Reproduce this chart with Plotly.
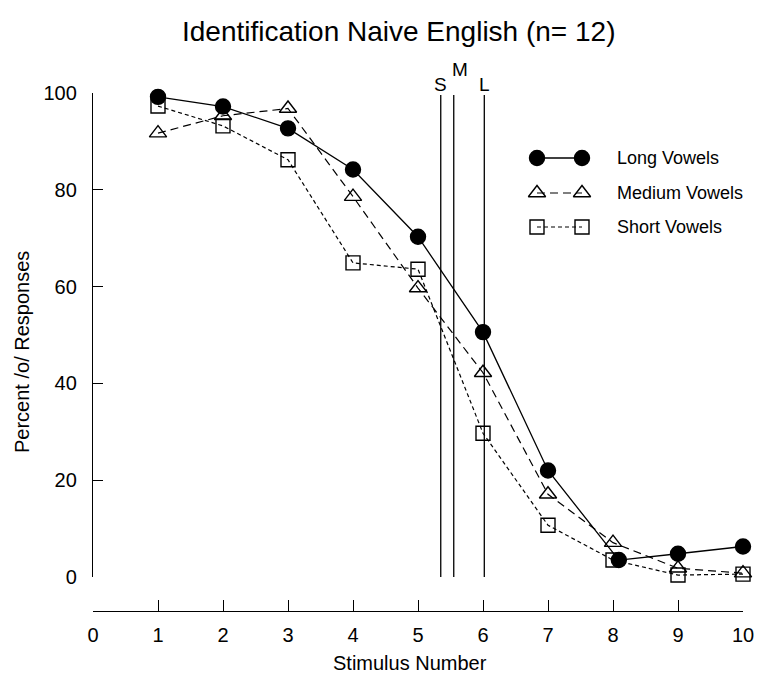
import plotly.graph_objects as go

# ---------------- data ----------------
stimulus = [1, 2, 3, 4, 5, 6, 7, 8, 9, 10]
long_x = [1, 2, 3, 4, 5, 6, 7, 8.09, 9, 10]
long_vowels = [99.2, 97.2, 92.7, 84.2, 70.3, 50.6, 22.0, 3.5, 4.8, 6.3]
medium_vowels = [91.7, 95.3, 96.8, 78.6, 59.7, 42.2, 17.1, 7.1, 1.8, 0.8]
short_vowels = [97.3, 93.2, 86.2, 64.9, 63.6, 29.7, 10.7, 3.5, 0.4, 0.6]
boundary_names = ["S", "M", "L"]
boundary_values = [5.35, 5.55, 6.02]
x_ticks = [0, 1, 2, 3, 4, 5, 6, 7, 8, 9, 10]
y_ticks = [0, 20, 40, 60, 80, 100]
series_names = ["Long Vowels", "Medium Vowels", "Short Vowels"]
title_text = "Identification Naive English (n= 12)"
x_title = "Stimulus Number"
y_title = "Percent /o/ Responses"

FONT = "Liberation Sans, Arial, Helvetica, sans-serif"
W, H = 776, 679
ML, MR, MT, MB = 93, 33, 93, 68
plot_w = W - ML - MR
plot_h = H - MT - MB
y0_pix = 577  # pixel row of y = 0
ydom0 = (H - MB - y0_pix) / plot_h


def px(xp):
    return (xp - ML) / plot_w


def py(yp):
    return (H - MB - yp) / plot_h


styles = [
    dict(symbol="circle", dash="solid", size=15, width=1.3),
    dict(symbol="triangle-up-open", dash="8px,5px", size=15, width=1.2),
    dict(symbol="square-open", dash="4px,3px", size=14, width=1.2),
]
xs = [long_x, stimulus, stimulus]
ys = [long_vowels, medium_vowels, short_vowels]

fig = go.Figure()
for name, x, y, st in zip(series_names, xs, ys, styles):
    fig.add_trace(go.Scatter(
        x=x, y=y, name=name, mode="lines+markers", cliponaxis=False,
        line=dict(color="black", width=st["width"], dash=st["dash"]),
        marker=dict(symbol=st["symbol"], size=st["size"], color="black",
                    line=dict(color="black", width=1.4)),
        showlegend=False,
    ))

# boundary lines
for nm, bv in zip(boundary_names, boundary_values):
    fig.add_shape(type="line", xref="x", yref="y", x0=bv, x1=bv, y0=-7.0, y1=99.6,
                  line=dict(color="black", width=1.3))

label_shift = {"S": (0, 0), "M": (6, 15), "L": (0, 0)}
for nm, bv in zip(boundary_names, boundary_values):
    dx, dy = label_shift[nm]
    fig.add_annotation(x=bv, y=99.6, xref="x", yref="y", text=nm, showarrow=False,
                       xanchor="center", yanchor="bottom", xshift=dx, yshift=dy - 2,
                       font=dict(family=FONT, size=19, color="black"))

# overlay axes in pixel units (overlay shares the y domain: rows 93..577)
fig.add_trace(go.Scatter(x=[None], y=[None], xaxis="x2", yaxis="y2", showlegend=False))
leg_rows = [158, 193, 227]
leg_x = [537, 582]
for name, st, ry in zip(series_names, styles, leg_rows):
    fig.add_trace(go.Scatter(
        x=leg_x, y=[ry, ry], xaxis="x2", yaxis="y2", mode="lines+markers",
        cliponaxis=False, showlegend=False, hoverinfo="skip",
        line=dict(color="black", width=st["width"], dash=st["dash"]),
        marker=dict(symbol=st["symbol"], size=st["size"], color="black",
                    line=dict(color="black", width=1.4)),
    ))
    fig.add_annotation(x=px(615), y=py(ry), xref="paper", yref="paper", text=name,
                       showarrow=False, xanchor="left", yanchor="middle",
                       font=dict(family=FONT, size=18, color="black"))

fig.add_annotation(x=px(398), y=py(32), xref="paper", yref="paper", text=title_text,
                   showarrow=False, xanchor="center", yanchor="middle",
                   font=dict(family=FONT, size=28, color="black"))
fig.add_annotation(x=px(410), y=py(663), xref="paper", yref="paper", text=x_title,
                   showarrow=False, xanchor="center", yanchor="middle",
                   font=dict(family=FONT, size=20, color="black"))
fig.add_annotation(x=px(22), y=py(352), xref="paper", yref="paper", text=y_title,
                   showarrow=False, textangle=-90, xanchor="center", yanchor="middle",
                   font=dict(family=FONT, size=20, color="black"))

fig.update_layout(
    width=W, height=H,
    margin=dict(l=ML, r=MR, t=MT, b=MB, pad=0),
    paper_bgcolor="white", plot_bgcolor="white",
    showlegend=False,
    font=dict(family=FONT, size=18, color="black"),
    xaxis=dict(range=[0, 10], tickvals=x_ticks, ticks="inside", ticklen=11,
               tickwidth=1.2, tickcolor="black", showline=True, linecolor="black",
               linewidth=1.3, showgrid=False, zeroline=False, anchor="free",
               position=0, ticklabelstandoff=6,
               tickfont=dict(family=FONT, size=20)),
    yaxis=dict(range=[0, 100], domain=[ydom0, 1], tickvals=y_ticks, ticks="inside",
               ticklen=10, tickwidth=1.2, tickcolor="black", showline=True,
               linecolor="black", linewidth=1.3, showgrid=False, zeroline=False,
               ticklabelstandoff=11, tickfont=dict(family=FONT, size=20)),
    xaxis2=dict(range=[ML, W - MR], overlaying="x", visible=False, anchor="y2"),
    yaxis2=dict(range=[y0_pix, MT], overlaying="y", visible=False, anchor="x2"),
)

fig.write_html("out.html")
